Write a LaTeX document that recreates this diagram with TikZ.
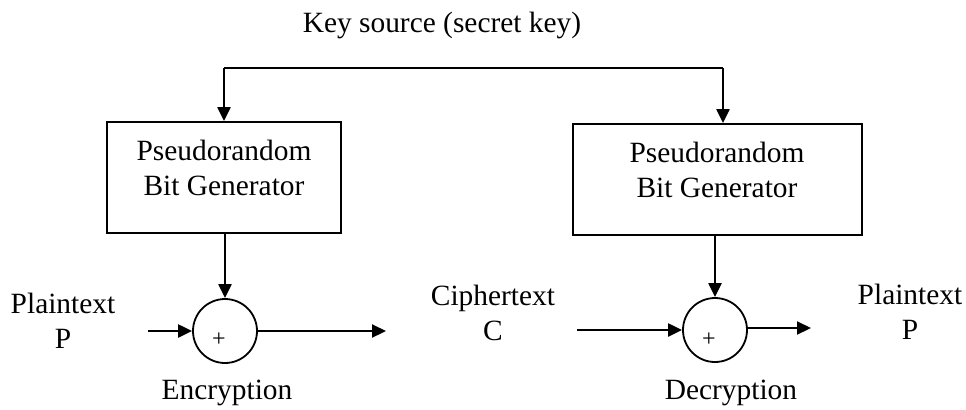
\documentclass[tikz,border=0pt]{standalone}
\usepackage{fontspec}
\setmainfont{Liberation Serif}
\usetikzlibrary{positioning, calc, arrows.meta}

\tikzset{
    lbl/.style={font=\rmfamily\fontsize{14.7}{17.5}\selectfont, align=center, inner sep=0pt},
    genbox/.style={draw, line width=0.9pt, minimum height=55.5pt, inner sep=0pt},
    xorc/.style={draw, circle, line width=0.9pt, minimum size=32pt, inner sep=0pt},
    arr/.style={line width=1.1pt, -{Triangle[length=7pt,width=6.5pt]}},
    ln/.style={line width=0.9pt}
}

\begin{document}
\begin{tikzpicture}[x=0.5pt, y=-0.5pt]

    \useasboundingbox (0,0) rectangle (966,409);

    % --- Key source ---
    \node[lbl] (key) at (442,25) {Key source (secret key)};
    \coordinate (kl) at (224,68);
    \coordinate (kr) at (723,68);

    % --- Generators ---
    \node[genbox, minimum width=117pt] (gen1) at (224,177.5) {};
    \node[lbl] (gen1txt) at (224,167.5) {Pseudorandom\\Bit Generator};
    \node[genbox, minimum width=144.5pt] (gen2) at (717.5,179.5) {};
    \node[lbl] (gen2txt) at (717,169.5) {Pseudorandom\\Bit Generator};

    % key lines
    \draw[ln] (kl) -- (kr);
    \draw[arr] (kl) -- (kl |- gen1.north);
    \draw[arr] (kr) -- (kr |- gen2.north);

    % --- LEFT: Encryption ---
    \node[xorc] (xor1) at (225,331) {};
    \node[lbl, font=\rmfamily\fontsize{12}{12}\selectfont] (plus1) at (219,340) {+};
    \node[lbl] (pt1) at (63,321) {Plaintext\\P};
    \node[lbl] (enc) at (227,393) {Encryption};
    \coordinate (pin) at (148,331);
    \coordinate (cout) at (386,331);

    \draw[arr] (xor1.north |- gen1.south) -- (xor1.north);
    \draw[arr] (pin) -- (xor1.west);
    \draw[arr] (xor1.east) -- (cout);

    % --- MIDDLE: Ciphertext ---
    \node[lbl] (ct) at (493,313) {Ciphertext\\C};

    % --- RIGHT: Decryption ---
    \node[xorc] (xor2) at (715,330) {};
    \node[lbl, font=\rmfamily\fontsize{12}{12}\selectfont] (plus2) at (709,340) {+};
    \node[lbl] (pt2) at (910,312) {Plaintext\\P};
    \node[lbl] (dec) at (731,393) {Decryption};
    \coordinate (cin) at (577,330);
    \coordinate (pout) at (811,328);

    \draw[arr] (xor2.north |- gen2.south) -- (xor2.north);
    \draw[arr] (cin) -- (xor2.west);
    \draw[arr] (xor2.east |- pout) -- (pout);

\end{tikzpicture}
\end{document}
